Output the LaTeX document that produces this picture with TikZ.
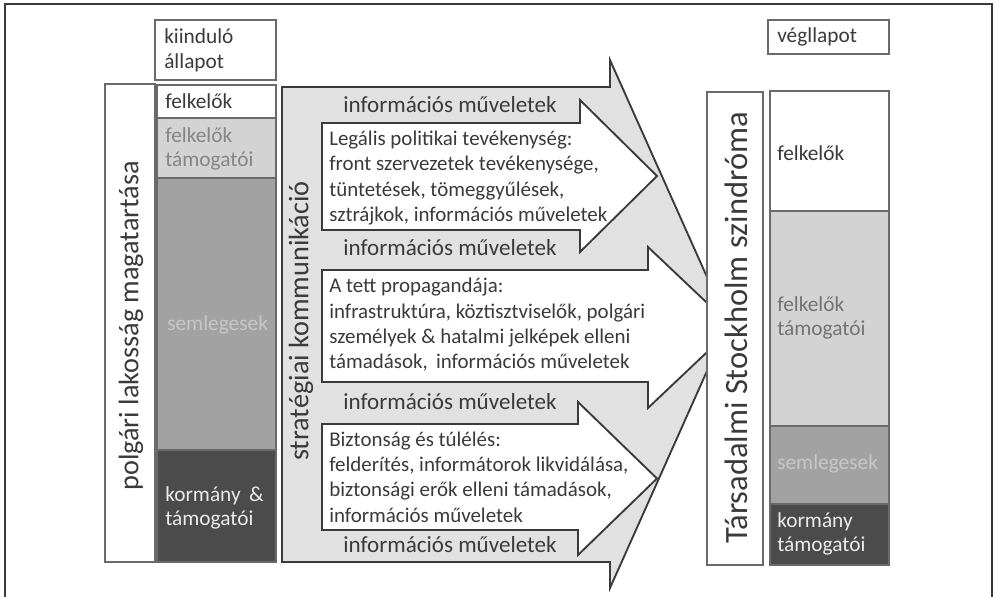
\documentclass[tikz,border=0pt]{standalone}
\usepackage{fontspec}
\setmainfont{Carlito}
\definecolor{linec}{HTML}{3A3A3A}
\definecolor{boxline}{HTML}{6A6A6A}
\definecolor{lgray}{HTML}{D3D3D3}
\definecolor{mgray}{HTML}{A2A2A2}
\definecolor{dgray}{HTML}{4B4B4B}
\definecolor{afill}{HTML}{E1E1E1}
\definecolor{txt}{HTML}{3A3A3A}
\tikzset{
  cellbox/.style={draw=boxline, line width=0.8pt},
  arrowshape/.style={draw=linec, line width=1.4pt, line join=miter},
  lbl/.style={inner sep=0pt, anchor=west, align=left, text=txt, font=\fontsize{16pt}{18.5pt}\selectfont},
  ops/.style={inner sep=0pt, text=txt, font=\fontsize{17.3pt}{20pt}\selectfont},
  blk/.style={inner sep=0pt, anchor=west, align=left, text=txt, font=\fontsize{15.7pt}{19pt}\selectfont},
  vlbl/.style={inner sep=0pt, rotate=90, text=txt},
}
\begin{document}
\begin{tikzpicture}[x=0.75pt,y=-0.75pt]
\useasboundingbox (0,0) rectangle (995,596);
\clip (0,0) rectangle (995,596);
\fill[white] (0,0) rectangle (995,596);
% outer frame
\draw[draw=linec, line width=1.3pt] (5,4) rectangle (992,620);

% ---------- left side ----------
\draw[cellbox, fill=white] (155,20) rectangle (276,80);
\node[lbl] (kiind) at (164,50) {kiinduló\\állapot};
\draw[cellbox, fill=white] (105,84) rectangle (155,562);
\node[vlbl, font=\fontsize{21.2pt}{24pt}\selectfont] (polg) at (131,326) {polgári lakosság magatartása};
\draw[cellbox, fill=white] (157,85) rectangle (276,118);
\draw[cellbox, fill=lgray] (157,118) rectangle (276,178);
\draw[cellbox, fill=mgray] (157,178) rectangle (276,450);
\draw[cellbox, fill=dgray] (157,450) rectangle (276,562);
\node[lbl] (lfel) at (165,101) {felkelők};
\node[lbl, text=black!48] (ltam) at (165,149) {felkelők\\támogatói};
\node[lbl, text=black!22] (lsem) at (167,325) {semlegesek};
\node[lbl, text=black!8] (lkor) at (165,508) {kormány \,\&\\támogatói};

% ---------- middle: big arrow ----------
\draw[arrowshape, fill=afill] (282,87) -- (610,87) -- (610,60) -- (728,324) -- (610,588) -- (610,562) -- (282,562) -- cycle;
\draw[arrowshape, fill=white] (322,123) -- (580,123) -- (580,100) -- (657,176) -- (580,252) -- (580,230) -- (322,230) -- cycle;
\draw[arrowshape, fill=white] (322,270) -- (648,270) -- (648,247) -- (733,327.5) -- (648,408) -- (648,382) -- (322,382) -- cycle;
\draw[arrowshape, fill=white] (322,424) -- (578,424) -- (578,402) -- (657,478.5) -- (578,555) -- (578,530) -- (322,530) -- cycle;

\node[vlbl, font=\fontsize{21.2pt}{24pt}\selectfont] (strat) at (301,321) {stratégiai kommunikáció};
\node[ops] (ops1) at (450,105) {információs műveletek};
\node[ops] (ops2) at (450,248) {információs műveletek};
\node[ops] (ops3) at (450,402) {információs műveletek};
\node[ops] (ops4) at (450,545) {információs műveletek};
\node[blk] (blk1) at (329,178) {Legális politikai tevékenység:\\front szervezetek tevékenysége,\\tüntetések, tömeggyűlések,\\sztrájkok, információs műveletek};
\node[blk] (blk2) at (329,325) {A tett propagandája:\\infrastruktúra, köztisztviselők, polgári\\személyek \& hatalmi jelképek elleni\\támadások, \,információs műveletek};
\node[blk] (blk3) at (329,477) {Biztonság és túlélés:\\felderítés, informátorok likvidálása,\\biztonsági erők elleni támadások,\\információs műveletek};

% ---------- right side ----------
\draw[cellbox, fill=white] (707,92) rectangle (763,565);
\node[vlbl, font=\fontsize{24.4pt}{28pt}\selectfont] (stock) at (736,328) {Társadalmi Stockholm szindróma};
\draw[cellbox, fill=white] (768,20) rectangle (889,54);
\node[lbl] (vegl) at (777,37) {végllapot};
\draw[cellbox, fill=white] (770,91) rectangle (889,211);
\draw[cellbox, fill=lgray] (770,211) rectangle (889,426);
\draw[cellbox, fill=mgray] (770,426) rectangle (889,504);
\draw[cellbox, fill=dgray] (770,504) rectangle (889,565);
\node[lbl] (rfel) at (777,153) {felkelők};
\node[lbl, text=black!55] (rtam) at (777,318) {felkelők\\támogatói};
\node[lbl, text=black!22] (rsem) at (777,464) {semlegesek};
\node[lbl, text=black!8] (rkor) at (777,534) {kormány\\támogatói};
\end{tikzpicture}
\end{document}
